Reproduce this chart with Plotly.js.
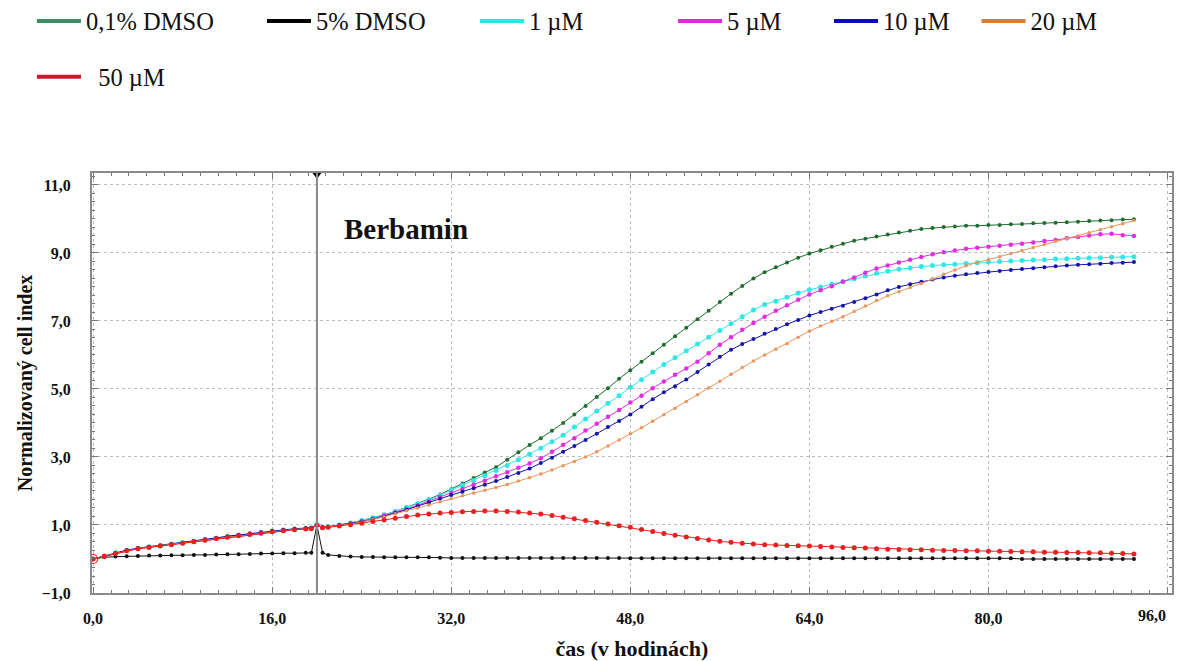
<!DOCTYPE html>
<html><head><meta charset="utf-8">
<script src="https://cdn.plot.ly/plotly-3.0.1.min.js"></script>
<style>html,body{margin:0;padding:0;background:#fff;overflow:hidden}#chart{width:1181px;height:671px;margin-top:-10px}</style>
</head><body><div id="chart"></div>
<script>
// time in hours
const hours = [0,1,2,3,4,5,6,7,8,9,10,11,12,13,14,15,16,17,18,19,19.5,20,20.5,
 21,22,23,24,25,26,27,28,29,30,31,32,33,34,35,36,37,38,39,40,
 41,42,43,44,45,46,47,48,49,50,51,52,53,54,55,56,57,58,59,60,
 61,62,63,64,65,66,67,68,69,70,71,72,73,74,75,76,77,78,79,80,
 81,82,83,84,85,86,87,88,89,90,91,92,93];

const dmso01 = [0.00,0.08,0.17,0.25,0.31,0.35,0.39,0.43,0.47,0.52,0.57,0.61,0.66,0.70,0.74,0.78,0.82,0.85,0.88,0.90,0.91,1.00,0.93,
 0.95,1.00,1.06,1.13,1.21,1.30,1.40,1.52,1.63,1.76,
 1.90,2.05,2.22,2.38,2.54,2.70,2.92,3.14,3.35,3.55,
 3.77,4.00,4.25,4.50,4.76,5.02,5.30,5.55,5.80,6.05,
 6.30,6.55,6.80,7.05,7.30,7.56,7.80,8.03,8.25,8.43,
 8.58,8.72,8.86,8.98,9.08,9.18,9.27,9.36,9.42,9.48,
 9.54,9.60,9.65,9.70,9.73,9.76,9.78,9.80,9.80,9.82,
 9.82,9.84,9.85,9.87,9.88,9.89,9.90,9.92,9.94,9.95,
 9.96,9.98,9.99];

const dmso5 = [0.00,0.05,0.07,0.08,0.09,0.10,0.10,0.11,0.11,0.12,0.12,0.13,0.14,0.14,0.15,0.16,0.16,0.17,0.17,0.18,0.18,1.00,0.18,
 0.12,0.09,0.07,0.06,0.06,0.05,0.05,0.05,0.05,0.05,
 0.04,0.03,0.03,0.03,0.03,0.03,0.03,0.03,0.03,0.03,
 0.03,0.03,0.03,0.03,0.03,0.03,0.03,0.02,0.02,0.02,
 0.02,0.02,0.02,0.02,0.02,0.02,0.02,0.02,0.02,0.02,
 0.02,0.02,0.02,0.02,0.02,0.02,0.02,0.02,0.02,0.02,
 0.02,0.02,0.02,0.02,0.02,0.02,0.02,0.02,0.02,0.02,
 0.02,0.02,0.00,0.00,0.00,0.00,0.00,0.00,0.00,0.00,
 0.00,0.00,0.00];

const ber1 = [0.00,0.09,0.18,0.26,0.31,0.36,0.40,0.44,0.48,0.52,0.57,0.62,0.66,0.70,0.74,0.78,0.82,0.85,0.88,0.90,0.91,1.00,0.93,
 0.95,1.00,1.06,1.13,1.21,1.30,1.40,1.51,1.62,1.74,
 1.87,2.02,2.17,2.31,2.45,2.60,2.75,2.92,3.08,3.26,
 3.45,3.64,3.88,4.12,4.35,4.58,4.80,5.05,5.27,5.50,
 5.72,5.92,6.12,6.32,6.52,6.72,6.92,7.12,7.32,7.48,
 7.58,7.70,7.82,7.92,8.00,8.08,8.16,8.24,8.32,8.40,
 8.46,8.52,8.56,8.60,8.63,8.65,8.67,8.69,8.71,8.73,
 8.75,8.76,8.78,8.79,8.80,8.82,8.83,8.84,8.85,8.86,
 8.87,8.88,8.89];

const ber5 = [0.00,0.08,0.17,0.25,0.30,0.35,0.39,0.43,0.47,0.51,0.56,0.61,0.65,0.69,0.73,0.77,0.81,0.84,0.87,0.89,0.90,1.00,0.92,
 0.94,0.99,1.04,1.10,1.18,1.27,1.37,1.47,1.58,1.70,
 1.82,1.94,2.06,2.18,2.30,2.43,2.55,2.68,2.81,2.96,
 3.15,3.36,3.55,3.78,3.98,4.18,4.38,4.60,4.80,5.02,
 5.22,5.42,5.60,5.80,6.05,6.30,6.52,6.74,6.94,7.12,
 7.30,7.46,7.62,7.78,7.90,8.02,8.15,8.28,8.42,8.54,
 8.63,8.72,8.80,8.88,8.96,9.02,9.07,9.12,9.15,9.18,
 9.21,9.24,9.27,9.31,9.35,9.38,9.43,9.47,9.51,9.55,
 9.56,9.52,9.50];

const ber10 = [0.00,0.09,0.18,0.26,0.32,0.36,0.40,0.44,0.48,0.53,0.58,0.62,0.67,0.71,0.75,0.79,0.83,0.86,0.89,0.91,0.92,1.00,0.93,
 0.94,0.99,1.04,1.10,1.17,1.25,1.35,1.45,1.55,1.66,
 1.77,1.88,1.98,2.08,2.18,2.29,2.41,2.53,2.66,2.82,
 2.98,3.15,3.32,3.50,3.68,3.88,4.06,4.25,4.48,4.70,
 4.90,5.08,5.28,5.50,5.72,5.95,6.15,6.32,6.47,6.62,
 6.76,6.90,7.03,7.16,7.26,7.36,7.45,7.56,7.67,7.78,
 7.90,8.00,8.08,8.15,8.22,8.28,8.33,8.37,8.41,8.44,
 8.47,8.50,8.53,8.55,8.58,8.61,8.63,8.65,8.67,8.68,
 8.70,8.71,8.73];

const ber20 = [0.00,0.08,0.17,0.25,0.31,0.35,0.39,0.43,0.47,0.52,0.56,0.61,0.65,0.69,0.73,0.77,0.81,0.84,0.87,0.89,0.90,1.00,0.92,
 0.94,0.98,1.03,1.09,1.16,1.24,1.33,1.42,1.50,1.59,
 1.68,1.77,1.86,1.94,2.02,2.10,2.19,2.29,2.39,2.50,
 2.62,2.74,2.87,3.00,3.15,3.32,3.50,3.68,3.86,4.05,
 4.24,4.43,4.63,4.83,5.03,5.23,5.43,5.63,5.82,6.00,
 6.17,6.33,6.52,6.70,6.85,6.99,7.12,7.28,7.44,7.60,
 7.74,7.86,7.98,8.10,8.23,8.37,8.50,8.62,8.72,8.80,
 8.89,8.98,9.07,9.16,9.25,9.34,9.42,9.50,9.59,9.68,
 9.77,9.86,9.95];

const ber50 = [0.00,0.08,0.16,0.24,0.30,0.34,0.38,0.42,0.46,0.51,0.55,0.60,0.64,0.68,0.72,0.76,0.80,0.83,0.86,0.88,0.89,1.00,0.92,
 0.93,0.97,1.01,1.05,1.10,1.15,1.20,1.25,1.29,1.32,
 1.35,1.37,1.39,1.40,1.41,1.41,1.40,1.38,1.35,1.32,
 1.28,1.23,1.18,1.13,1.08,1.03,0.98,0.93,0.87,0.81,
 0.75,0.70,0.65,0.60,0.56,0.52,0.49,0.46,0.44,0.42,
 0.41,0.40,0.39,0.38,0.37,0.35,0.34,0.33,0.32,0.30,
 0.29,0.28,0.27,0.27,0.26,0.25,0.25,0.24,0.24,0.23,
 0.23,0.22,0.21,0.21,0.20,0.20,0.19,0.19,0.18,0.18,
 0.17,0.16,0.15];

const seriesNames = ['0,1% DMSO', '5% DMSO', '1 \u00b5M', '5 \u00b5M', '10 \u00b5M', '20 \u00b5M', '\u00a0\u00a050 \u00b5M'];
const seriesValues = [dmso01, dmso5, ber1, ber5, ber10, ber20, ber50];
const xTickValues = [0, 16, 32, 48, 64, 80, 96];
const xTickLabels = ['0,0', '16,0', '32,0', '48,0', '64,0', '80,0', '96,0'];
const berbaminTime = [20];
const berbaminMarkY = [11.3];
const startTime = [0];
const startValue = [0];

const legendColors = ['#3d8c63', '#000000', '#2fe3e3', '#d92ed0', '#0c0cb4', '#cf7f3c', '#cc1a2a'];
const dotColors    = ['#1f6e30', '#111111', '#33e6e6', '#e22ee0', '#1414a8', '#e8965c', '#e82020'];
const dotSizes     = [4, 4, 5, 4.5, 4, 3.5, 5];
const legendPos = [
  {x: -0.0556, y: 1.362}, {x: 0.1574, y: 1.362}, {x: 0.3546, y: 1.362},
  {x: 0.5380, y: 1.362}, {x: 0.6824, y: 1.362}, {x: 0.8190, y: 1.362},
  {x: -0.0556, y: 1.229}
];
const serif = '"Liberation Serif", "Times New Roman", serif';
const tickFont = {family: serif, size: 16, weight: 'bold', color: '#111'};

const traces = [];
seriesValues.forEach((vals, i) => {
  traces.push({
    x: hours, y: vals, type: 'scatter', mode: 'lines+markers',
    line: {color: dotColors[i], width: 1},
    marker: {color: dotColors[i], size: dotSizes[i]},
    showlegend: false, hoverinfo: 'x+y', name: seriesNames[i]
  });
});
seriesValues.forEach((vals, i) => {
  traces.push({
    x: [null], y: [null], type: 'scatter', mode: 'lines',
    line: {color: legendColors[i], width: 4},
    name: seriesNames[i], showlegend: true,
    legend: i === 0 ? 'legend' : 'legend' + (i + 1)
  });
});
traces.push({x: startTime, y: startValue, type: 'scatter', mode: 'markers',
  marker: {symbol: 'circle-open', size: 9, color: '#e82020', line: {width: 1.2}},
  showlegend: false, hoverinfo: 'skip'});
traces.push({x: berbaminTime, y: berbaminMarkY, type: 'scatter', mode: 'markers',
  marker: {symbol: 'triangle-down', size: 8, color: '#000'}, cliponaxis: false,
  showlegend: false, hoverinfo: 'skip'});

const lastIdx = xTickLabels.length - 1;
const layout = {
  width: 1181, height: 671,
  margin: {l: 92, r: 9, t: 175, b: 68},
  paper_bgcolor: '#fff', plot_bgcolor: '#fff',
  separators: ', ',
  font: {family: serif, color: '#111'},
  xaxis: {
    range: [-0.1, 96.4], tickmode: 'array', tickvals: xTickValues,
    ticktext: xTickLabels.map((t, i) => i === lastIdx ? '' : t),
    ticks: 'inside', ticklen: 6, tickwidth: 1, tickcolor: '#777',
    showline: true, linecolor: '#8a8a8a', linewidth: 2, mirror: 'ticks',
    showgrid: true, gridcolor: '#bdbdbd', griddash: 'dot', gridwidth: 1, zeroline: false,
    tickfont: tickFont,
    ticklabelstandoff: 10,
    minor: {tick0: 0, dtick: 1.6, ticks: 'inside', ticklen: 3, tickcolor: '#777', showgrid: false},
    title: {text: 'čas (v hodinách)', font: {family: serif, size: 22, weight: 'bold', color: '#111'}, standoff: 14},
    automargin: false
  },
  yaxis: {
    range: [-1, 11.35], tick0: -1, dtick: 2, tickformat: '.1f',
    ticks: 'inside', ticklen: 6, tickwidth: 1, tickcolor: '#777',
    showline: true, linecolor: '#8a8a8a', linewidth: 2, mirror: 'ticks',
    showgrid: true, gridcolor: '#bdbdbd', griddash: 'dot', gridwidth: 1, zeroline: false,
    tickfont: tickFont,
    ticklabelstandoff: 16,
    minor: {dtick: 0.25, ticks: 'inside', ticklen: 3, tickcolor: '#777', showgrid: false},
    title: {text: 'Normalizovaný cell index', font: {family: serif, size: 20, weight: 'bold', color: '#111'}, standoff: 4},
    automargin: false
  },
  shapes: [{type: 'line', xref: 'x', yref: 'paper', x0: berbaminTime[0], x1: berbaminTime[0], y0: 0, y1: 1,
    line: {color: '#8a8a8a', width: 2}}],
  annotations: [
    {text: '<b>Berbamin</b>', x: 22.2, y: 9.7, xref: 'x', yref: 'y', xanchor: 'left', yanchor: 'middle',
     showarrow: false, font: {family: serif, size: 29, color: '#111'}},
    {text: xTickLabels[lastIdx], x: xTickValues[lastIdx], y: 0, xref: 'x', yref: 'paper',
     xanchor: 'right', yanchor: 'top', yshift: -12, showarrow: false, font: tickFont}
  ]
};
legendPos.forEach((p, i) => {
  const key = i === 0 ? 'legend' : 'legend' + (i + 1);
  layout[key] = {x: p.x, y: p.y, xanchor: 'left', yanchor: 'middle', orientation: 'h',
    bgcolor: 'rgba(0,0,0,0)', borderwidth: 0, itemwidth: 44,
    font: {family: serif, size: 24.5, color: '#111'}};
});

Plotly.newPlot('chart', traces, layout, {displayModeBar: false, staticPlot: true});
</script>
</body></html>
